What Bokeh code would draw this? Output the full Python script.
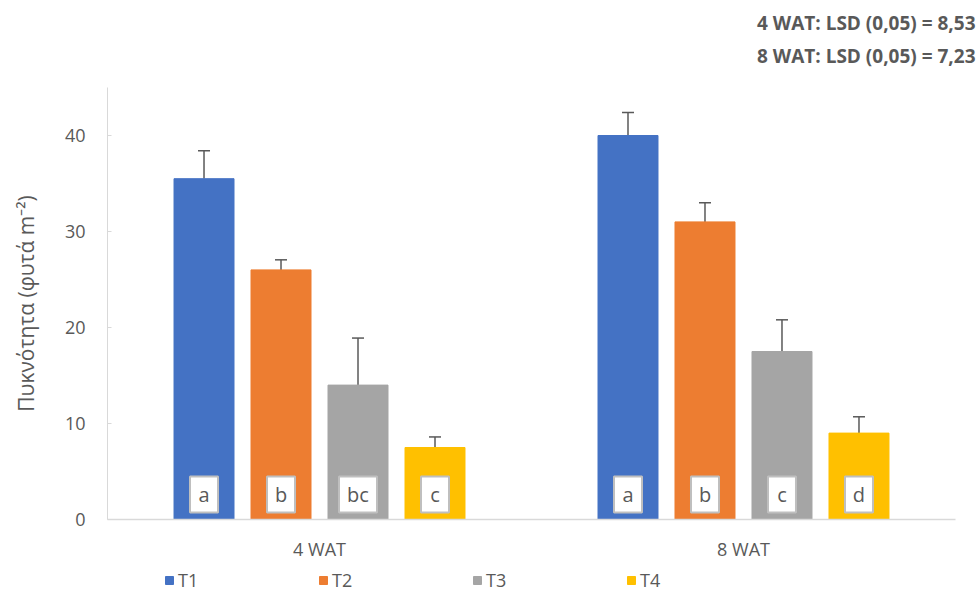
import math
from bokeh.plotting import figure
from bokeh.models import (Range1d, ColumnDataSource, Whisker, TeeHead,
                          Legend, LegendItem, Label, FixedTicker)
from bokeh.core.properties import value
from bokeh.embed import file_html
from bokeh.resources import INLINE

# ---------------- data ----------------
categories = ["4 WAT", "8 WAT"]
series = ["T1", "T2", "T3", "T4"]
t1 = [35.5, 40.0]
t2 = [26.0, 31.0]
t3 = [14.0, 17.5]
t4 = [7.5, 9.0]
t1_err = [2.9, 2.4]
t2_err = [1.05, 2.0]
t3_err = [4.9, 3.3]
t4_err = [1.1, 1.7]
t1_letters = ["a", "a"]
t2_letters = ["b", "b"]
t3_letters = ["bc", "c"]
t4_letters = ["c", "d"]
y_ticks = [0, 10, 20, 30, 40]
lsd_lines = ["4 WAT: LSD (0,05) = 8,53", "8 WAT: LSD (0,05) = 7,23"]
y_label = "Πυκνότητα (φυτά m\u207b\u00b2)"

values = [t1, t2, t3, t4]
errors = [t1_err, t2_err, t3_err, t4_err]
letters = [t1_letters, t2_letters, t3_letters, t4_letters]
colors = ["#4472C4", "#ED7D31", "#A5A5A5", "#FFC000"]
offsets = [-0.2724, -0.0908, 0.0908, 0.2724]
bar_w = 0.1415
TXT = "#595959"
FONT = "Open Sans"

# category slots: slot i spans [i, i+1] on the x scale
cat_pos = [i + 0.5 for i in range(len(categories))]
n_cat = len(categories)

# the plotting frame covers the whole canvas; the axes are pinned at 0 and bounded
p = figure(width=980, height=592, x_range=Range1d(-0.2524, 2.0590),
           y_range=Range1d(-7.604, 54.0625), output_backend="svg", toolbar_location=None,
           min_border_left=0, min_border_right=0, min_border_top=0, min_border_bottom=0)
p.outline_line_color = None
p.xgrid.grid_line_color = None
p.ygrid.grid_line_color = None
p.background_fill_color = "white"
p.border_fill_color = "white"

items = []
for name, vals, errs, lets, col, off in zip(series, values, errors, letters, colors, offsets):
    src = ColumnDataSource(dict(
        x=[c + off for c in cat_pos], val=vals, upper=[v + e for v, e in zip(vals, errs)],
        letter=lets, box_w=[18 + 10 * len(l) for l in lets]))
    r = p.vbar(x="x", top="val", width=bar_w, source=src, fill_color=col, line_color=col)
    items.append(LegendItem(label=name, renderers=[r]))
    p.add_layout(Whisker(base="x", upper="upper", lower="val", source=src,
                         dimension="height", line_color="#595959", line_width=1.5, lower_head=None,
                         upper_head=TeeHead(size=12, line_color="#595959", line_width=1.5)))
    p.rect(x="x", y=2.6, width="box_w", height=36, width_units="screen", height_units="screen",
           source=src, fill_color="white", line_color="#BFBFBF", line_width=2)
    p.text(x="x", y=2.6, text="letter", source=src,
           text_font=value(FONT), text_font_size="20px", text_align="center",
           text_baseline="middle", text_color=TXT)

# value axis
p.yaxis.fixed_location = 0
p.yaxis.bounds = (0, 45)
p.yaxis.ticker = FixedTicker(ticks=y_ticks)
p.yaxis.axis_line_color = "#D9D9D9"
p.yaxis.major_tick_line_color = "#D9D9D9"
p.yaxis.major_tick_in = 4
p.yaxis.major_tick_out = 0
p.yaxis.minor_tick_line_color = None
p.yaxis.major_label_text_font = FONT
p.yaxis.major_label_text_font_size = "18px"
p.yaxis.major_label_text_color = TXT
p.yaxis.major_label_standoff = 22

p.add_layout(Label(x=-0.1924, y=22.5, text=y_label, angle=math.pi / 2,
                   text_align="center", text_baseline="middle", text_font=FONT,
                   text_font_size="21px", text_color=TXT))

# category axis
p.xaxis.fixed_location = 0
p.xaxis.bounds = (0, n_cat)
p.xaxis.ticker = FixedTicker(ticks=cat_pos)
p.xaxis.major_label_overrides = {c: name for c, name in zip(cat_pos, categories)}
p.xaxis.axis_line_color = "#D9D9D9"
p.xaxis.axis_line_width = 1.5
p.xaxis.major_tick_line_color = None
p.xaxis.minor_tick_line_color = None
p.xaxis.major_label_text_font = FONT
p.xaxis.major_label_text_font_size = "18px"
p.xaxis.major_label_text_color = TXT
p.xaxis.major_label_standoff = 11

legend = Legend(items=items, orientation="horizontal", location=(164, 0),
                glyph_width=10, glyph_height=10, label_height=10, label_width=140,
                label_standoff=4, spacing=0, padding=0, margin=0,
                border_line_color=None, background_fill_alpha=0,
                label_text_font=FONT, label_text_font_size="18px", label_text_color=TXT)
p.add_layout(legend)

for txt, yv in zip(lsd_lines, [51.67, 48.33]):
    p.add_layout(Label(x=2.0472, y=yv, text=txt, text_align="right", text_baseline="middle",
                       text_font=FONT, text_font_size="19px", text_font_style="bold",
                       text_color=TXT))

open("out.html", "w").write(file_html(p, INLINE))
